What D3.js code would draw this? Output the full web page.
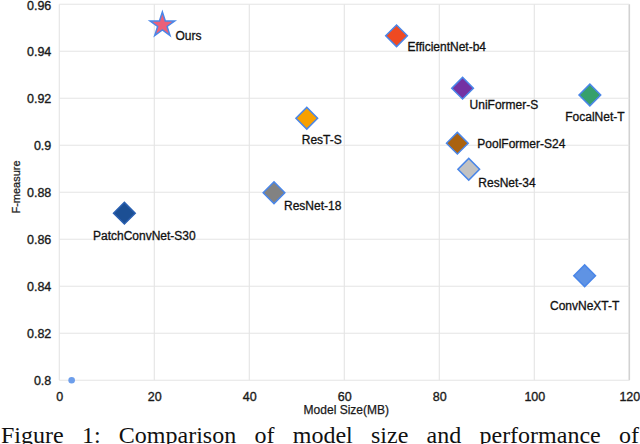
<!DOCTYPE html>
<html>
<head>
<meta charset="utf-8">
<script src="https://cdn.jsdelivr.net/npm/d3@7"></script>
<style>
html,body{margin:0;padding:0;background:#fff;}
svg{display:block;}
</style>
</head>
<body>
<script>
// ---- data ----
const models = ["Ours","EfficientNet-b4","UniFormer-S","FocalNet-T","PoolFormer-S24","ResNet-34","ResT-S","ResNet-18","PatchConvNet-S30","ConvNeXT-T"];
const modelSize = [21.7, 71.0, 84.9, 111.7, 83.8, 86.2, 52.1, 45.2, 13.7, 110.6];
const fMeasure  = [0.9512, 0.9466, 0.9243, 0.9214, 0.9009, 0.8898, 0.9115, 0.8798, 0.8711, 0.8445];
const markerColors = ["#ec6079","#ef4a22","#7432a3","#36a06c","#aa6210","#c2c2c2","#f7a000","#828282","#1c4f94","#5f93e4"];
const extraPointX = [2.6];
const extraPointY = [0.8];
const xTicks = [0,20,40,60,80,100,120];
const yTicks = [0.8,0.82,0.84,0.86,0.88,0.9,0.92,0.94,0.96];
const xTitle = "Model Size(MB)";
const yTitle = "F-measure";
const caption = "Figure 1: Comparison of model size and performance of";

// ---- layout (label offsets in px relative to marker) ----
const labelOffsets = [
  {dx:13, dy:15, anchor:"start"},
  {dx:11, dy:15, anchor:"start"},
  {dx:7, dy:21, anchor:"start"},
  {dx:5, dy:26, anchor:"middle"},
  {dx:20, dy:4.5, anchor:"start"},
  {dx:9.6, dy:17.5, anchor:"start"},
  {dx:-5, dy:26, anchor:"start"},
  {dx:10, dy:17.5, anchor:"start"},
  {dx:20, dy:26.5, anchor:"middle"},
  {dx:0, dy:34.5, anchor:"middle"}
];

const W = 640, H = 444;
const svg = d3.select("body").append("svg").attr("width", W).attr("height", H);

const x = d3.scaleLinear().domain([0,120]).range([59.3, 629.3]);
const y = d3.scaleLinear().domain([0.8,0.96]).range([380.3, 4.3]);

const font = "'Liberation Sans', Arial, sans-serif";

// grid
const grid = svg.append("g");
grid.selectAll("line.v").data(xTicks).join("line")
  .attr("x1", d => x(d)).attr("x2", d => x(d))
  .attr("y1", y(0.96)).attr("y2", y(0.8))
  .attr("stroke", d => d === 120 ? "#d2d2d2" : "#e4e4e4")
  .attr("stroke-width", d => d === 120 ? 1.6 : 1.1);
grid.selectAll("line.h").data(yTicks).join("line")
  .attr("x1", x(0)).attr("x2", x(120))
  .attr("y1", d => y(d)).attr("y2", d => y(d))
  .attr("stroke", "#e4e4e4").attr("stroke-width", 1.1);

// axes (labels only)
const xAxis = d3.axisBottom(x).tickValues(xTicks).tickFormat(d3.format("d")).tickSize(0).tickPadding(12);
const gx = svg.append("g").attr("transform", `translate(0,${y(0.8)})`).call(xAxis);
gx.select(".domain").remove();
gx.selectAll("text").attr("font-family", font).attr("font-size", 12.5).attr("fill", "#1a1a1a")
  .attr("stroke", "#1a1a1a").attr("stroke-width", 0.35);

const yAxis = d3.axisLeft(y).tickValues(yTicks).tickFormat(d => d3.format("")(+d.toFixed(2))).tickSize(0).tickPadding(8);
const gy = svg.append("g").attr("transform", `translate(${x(0)},0)`).call(yAxis);
gy.select(".domain").remove();
gy.selectAll("text").attr("font-family", font).attr("font-size", 12.5).attr("fill", "#1a1a1a")
  .attr("stroke", "#1a1a1a").attr("stroke-width", 0.35);
gy.selectAll(".tick").filter(d => d === 0.96).select("text").attr("dy", "0.45em");

// axis titles
svg.append("text").attr("x", (x(0)+x(120))/2 + 2).attr("y", 414)
  .attr("text-anchor","middle").attr("font-family", font).attr("font-size", 12)
  .attr("fill","#1a1a1a").attr("stroke", "#1a1a1a").attr("stroke-width", 0.25).text(xTitle);
svg.append("text").attr("transform", `translate(20,187) rotate(-90)`)
  .attr("text-anchor","middle").attr("font-family", font).attr("font-size", 11)
  .attr("fill","#1a1a1a").attr("stroke", "#1a1a1a").attr("stroke-width", 0.25).text(yTitle);

// extra point
svg.selectAll("circle.extra").data(extraPointX).join("circle")
  .attr("cx", d => x(d)).attr("cy", (d,i) => y(extraPointY[i]))
  .attr("r", 3.3).attr("fill", "#6d9eeb");

// markers
const pts = models.map((m,i) => ({name:m, xv:modelSize[i], yv:fMeasure[i], c:markerColors[i], off:labelOffsets[i]}));
const star = d3.symbol().type(d3.symbolStar).size(190);
const diamond = d3.symbol().type(d3.symbolSquare).size(235);

svg.selectAll("path.mk").data(pts).join("path")
  .attr("d", (d,i) => i === 0 ? star() : diamond())
  .attr("transform", (d,i) => `translate(${x(d.xv)},${y(d.yv)})` + (i === 0 ? "" : " rotate(45)"))
  .attr("fill", d => d.c)
  .attr("stroke", (d,i) => i === 8 ? "#2a5fb0" : "#4a86e8")
  .attr("stroke-width", 1.5)
  .attr("stroke-linejoin", "miter");

svg.selectAll("text.lbl").data(pts).join("text")
  .attr("x", d => x(d.xv) + d.off.dx)
  .attr("y", d => y(d.yv) + d.off.dy)
  .attr("text-anchor", d => d.off.anchor)
  .attr("font-family", font).attr("font-size", 12)
  .attr("fill", "#111").attr("stroke", "#111").attr("stroke-width", 0.3)
  .text(d => d.name);

// caption (cut off at bottom, as in the reference)
const cap = svg.append("text").attr("x", 1).attr("y", 443)
  .attr("font-family", "'Liberation Serif', 'Times New Roman', serif")
  .attr("font-size", 24).attr("fill", "#111").text(caption);
const len = cap.node().getComputedTextLength();
const gaps = caption.split(" ").length - 1;
cap.attr("word-spacing", Math.max(0, (638 - len) / gaps));
</script>
</body>
</html>
